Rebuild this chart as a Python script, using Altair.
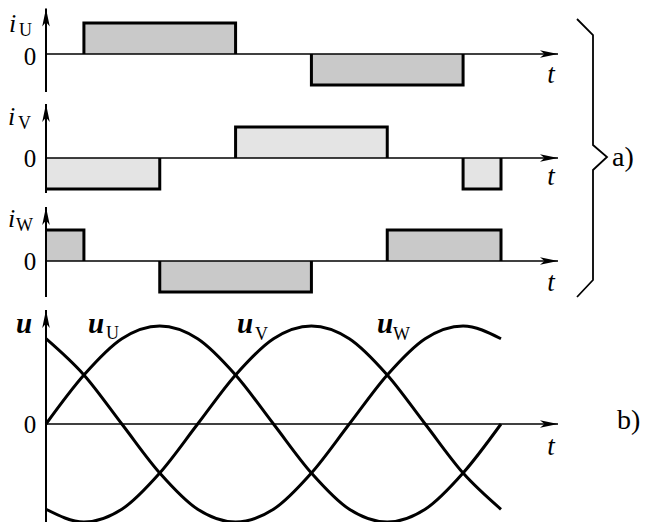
import altair as alt
import pandas as pd

# ---------------- data ----------------
angles = [0, 30, 60, 90, 120, 150, 180, 210, 240, 270, 300, 330, 360]
u_U = [0.0, 0.5, 0.87, 1.0, 0.87, 0.5, 0.0, -0.5, -0.87, -1.0, -0.87, -0.5, 0.0]
u_V = [-0.87, -1.0, -0.87, -0.5, 0.0, 0.5, 0.87, 1.0, 0.87, 0.5, 0.0, -0.5, -0.87]
u_W = [0.87, 0.5, 0.0, -0.5, -0.87, -1.0, -0.87, -0.5, 0.0, 0.5, 0.87, 1.0, 0.87]

pulse_phase = ["U", "U", "V", "V", "V", "W", "W", "W"]
pulse_start = [30, 210, 0, 150, 330, 0, 90, 270]
pulse_end = [150, 330, 90, 270, 360, 30, 210, 360]
pulse_level = [1, -1, -1, 1, -1, 1, -1, 1]

# ---------------- layout ----------------
W, H = 633, 514
X_ORIGIN = 46
PX_PER_DEG = 455 / 360


def deg(px):
    return (px - X_ORIGIN) / PX_PER_DEG


x_dom = [deg(8), deg(8 + W)]
y_dom = [8, 8 + H]
base = {"U": 54, "V": 158, "W": 261}
I_GAIN = 31
U_BASE = 424
U_GAIN = 98
fills = {"U": "#c9c9c9", "V": "#e4e4e4", "W": "#c9c9c9"}
T_END = deg(558)

xs = alt.Scale(domain=x_dom, nice=False, zero=False)
ys = alt.Scale(domain=y_dom, reverse=True, nice=False, zero=False)


def X(f):
    return alt.X(f, type="quantitative", scale=xs, axis=None)


def Y(f):
    return alt.Y(f, type="quantitative", scale=ys, axis=None)


# pulse fills
rect_df = pd.DataFrame({
    "x": pulse_start,
    "x2": pulse_end,
    "y": [base[p] for p in pulse_phase],
    "y2": [base[p] - I_GAIN * l for p, l in zip(pulse_phase, pulse_level)],
    "fill": [fills[p] for p in pulse_phase],
})
rects = alt.Chart(rect_df).mark_rect().encode(
    x=X("x"), x2="x2", y=Y("y"), y2="y2",
    color=alt.Color("fill:N", scale=None),
)

# pulse outlines
rows = []
for i, (p, s, e, l) in enumerate(zip(pulse_phase, pulse_start, pulse_end, pulse_level)):
    b = base[p]
    top = b - I_GAIN * l
    pts = []
    if s != 0:
        pts.append((s, b))
    pts += [(s, top), (e, top), (e, b)]
    for k, (xx, yy) in enumerate(pts):
        rows.append({"id": i, "k": k, "x": xx, "y": yy})
outline_df = pd.DataFrame(rows)
outlines = alt.Chart(outline_df).mark_line(
    color="black", strokeWidth=3, strokeJoin="miter", strokeCap="butt"
).encode(x=X("x"), y=Y("y"), detail="id:N", order="k:Q")

# horizontal axes
haxis_df = pd.DataFrame({
    "x": [0, 0, 0, 0],
    "x2": [T_END] * 4,
    "y": [base["U"], base["V"], base["W"], U_BASE],
})
haxes = alt.Chart(haxis_df).mark_rule(color="black", strokeWidth=1.5).encode(
    x=X("x"), x2="x2", y=Y("y")
)

# vertical axes
vaxis_df = pd.DataFrame({
    "x": [0, 0, 0, 0],
    "y": [8.5, 104, 207, 310],
    "y2": [92, 193, 297, 530],
})
vaxes = alt.Chart(vaxis_df).mark_rule(color="black", strokeWidth=2).encode(
    x=X("x"), y=Y("y"), y2="y2"
)

# arrow heads
harrow = "M0,0 L-2,-0.42 L-1.5,0 L-2,0.42 Z"
varrow = "M0,0 L-0.42,2 L0,1.5 L0.42,2 Z"
harr = alt.Chart(pd.DataFrame({"x": [T_END] * 4, "y": haxis_df["y"]})).mark_point(
    shape=harrow, filled=True, size=324, color="black", opacity=1, strokeWidth=0
).encode(x=X("x"), y=Y("y"))
varr = alt.Chart(pd.DataFrame({"x": [0] * 4, "y": vaxis_df["y"]})).mark_point(
    shape=varrow, filled=True, size=324, color="black", opacity=1, strokeWidth=0
).encode(x=X("x"), y=Y("y"))

# voltage curves
curve_rows = []
for name, vals, in [("U", u_U), ("V", u_V), ("W", u_W)]:
    for a, v in zip(angles, vals):
        curve_rows.append({"ph": name, "x": a, "y": U_BASE - U_GAIN * v})
curve_df = pd.DataFrame(curve_rows)
curves = alt.Chart(curve_df).mark_line(
    color="black", strokeWidth=3, interpolate="monotone"
).encode(x=X("x"), y=Y("y"), detail="ph:N")

# brace
brace_px = [(577, 19), (593, 35), (593, 145), (607, 157), (593, 170), (593, 280), (577, 297)]
brace_df = pd.DataFrame({
    "k": list(range(len(brace_px))),
    "x": [deg(p[0]) for p in brace_px],
    "y": [p[1] for p in brace_px],
})
brace = alt.Chart(brace_df).mark_line(color="black", strokeWidth=1.8).encode(
    x=X("x"), y=Y("y"), order="k:Q"
)

# text
FONT = "Times New Roman, Liberation Serif, serif"
ital_i = pd.DataFrame({
    "text": ["i", "i", "i"],
    "x": [deg(p) for p in [9, 8, 8]],
    "y": [32, 125, 227],
})
ital_u = pd.DataFrame({
    "text": ["u", "u", "u", "u"],
    "x": [deg(p) for p in [16, 88, 237, 377]],
    "y": [333, 333, 333, 333],
})
t_lab = pd.DataFrame({
    "text": ["t"] * 4,
    "x": [deg(551)] * 4,
    "y": [83, 185, 291, 455],
})
subs = pd.DataFrame({
    "text": ["U", "V", "W", "U", "V", "W"],
    "x": [deg(p) for p in [19, 18, 16, 106, 255, 393]],
    "y": [36, 129, 231, 339, 340, 340],
})
zeros = pd.DataFrame({
    "text": ["0"] * 4,
    "x": [deg(30)] * 4,
    "y": [65, 167, 270, 433],
})
parts = pd.DataFrame({
    "text": ["a)", "b)"],
    "x": [deg(612), deg(617)],
    "y": [166, 429],
})

t1 = alt.Chart(ital_i).mark_text(
    font=FONT, fontStyle="italic", fontSize=26, align="left", baseline="alphabetic", color="black"
).encode(x=X("x"), y=Y("y"), text="text:N")
t1b = alt.Chart(ital_u).mark_text(
    font=FONT, fontStyle="italic", fontWeight="bold", fontSize=29, align="left", baseline="alphabetic", color="black"
).encode(x=X("x"), y=Y("y"), text="text:N")
t2 = alt.Chart(t_lab).mark_text(
    font=FONT, fontStyle="italic", fontSize=27, align="center", baseline="alphabetic", color="black"
).encode(x=X("x"), y=Y("y"), text="text:N")
t3 = alt.Chart(subs).mark_text(
    font=FONT, fontSize=18, align="left", baseline="alphabetic", color="black"
).encode(x=X("x"), y=Y("y"), text="text:N")
t4 = alt.Chart(zeros).mark_text(
    font=FONT, fontSize=25, align="center", baseline="alphabetic", color="black"
).encode(x=X("x"), y=Y("y"), text="text:N")
t5 = alt.Chart(parts).mark_text(
    font=FONT, fontSize=28, align="left", baseline="alphabetic", color="black"
).encode(x=X("x"), y=Y("y"), text="text:N")

chart = alt.layer(
    rects, haxes, vaxes, outlines, curves, harr, varr, brace, t1, t1b, t2, t3, t4, t5
).properties(
    width=W, height=H, padding=0, background="white",
    autosize=alt.AutoSizeParams(type="none"),
).configure_view(strokeWidth=0)

chart.save("out.html", embed_options={"renderer": "svg", "actions": False})
